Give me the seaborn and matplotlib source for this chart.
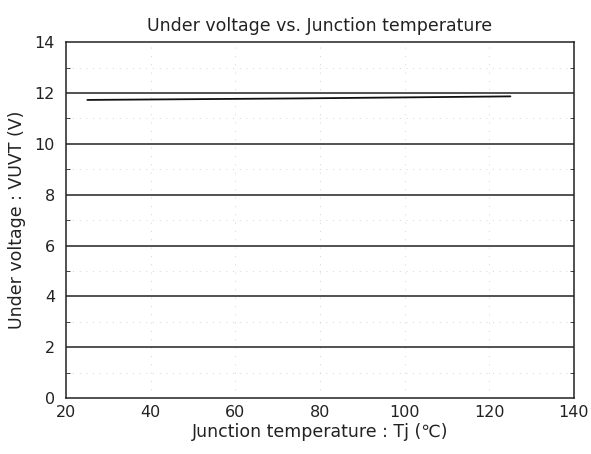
import numpy as np
import pandas as pd
import matplotlib
matplotlib.use("Agg")
import matplotlib.pyplot as plt
import seaborn as sns

# Under voltage lockout threshold
tj = [25, 50, 75, 100, 125]
vuvt = [11.73, 11.76, 11.79, 11.83, 11.87]

x_ticks = [20, 40, 60, 80, 100, 120, 140]
y_ticks = [0, 2, 4, 6, 8, 10, 12, 14]

df = pd.DataFrame({"Tj": tj, "VUVT": vuvt})

sns.set_style("ticks")
plt.rcParams['font.family'] = ['DejaVu Sans']

fig = plt.figure(figsize=(5.91, 4.54), dpi=100)
ax = fig.add_axes([0.112, 0.123, 0.859, 0.784])

# major horizontal grid lines are solid, minor ones faint dotted
for y in y_ticks[1:-1]:
    ax.axhline(y, color="#222222", lw=1.1, zorder=1)
for y in [1, 3, 5, 7, 9, 11, 13]:
    ax.axhline(y, color="#c4c4c4", lw=0.6, ls=(0, (1, 7)), zorder=0)
for x in x_ticks[1:-1]:
    ax.axvline(x, color="#c4c4c4", lw=0.6, ls=(0, (1, 9)), zorder=0)

sns.lineplot(data=df, x="Tj", y="VUVT", ax=ax, color="#111111", lw=1.3, zorder=3)

ax.set_xlim(20, 140)
ax.set_ylim(0, 14)
ax.set_xticks(x_ticks)
ax.set_yticks(y_ticks)
ax.set_yticks([1, 3, 5, 7, 9, 11, 13], minor=True)
ax.tick_params(axis="both", which="both", direction="in", labelsize=11.5, colors="#222222",
               right=True, length=3)
ax.tick_params(axis="x", which="major", length=0, pad=5)
ax.tick_params(axis="y", which="major", length=0, pad=8)
for s in ax.spines.values():
    s.set_color("#222222")
    s.set_linewidth(1.1)

ax.set_xlabel("Junction temperature : Tj (℃)", fontsize=12.5, color="#222222", labelpad=2)
ax.set_ylabel("Under voltage : VUVT (V)", fontsize=12.5, color="#222222", labelpad=6)
ax.set_title("Under voltage vs. Junction temperature", fontsize=12.5, color="#222222", pad=8)

fig.savefig("out.png", dpi=100)
